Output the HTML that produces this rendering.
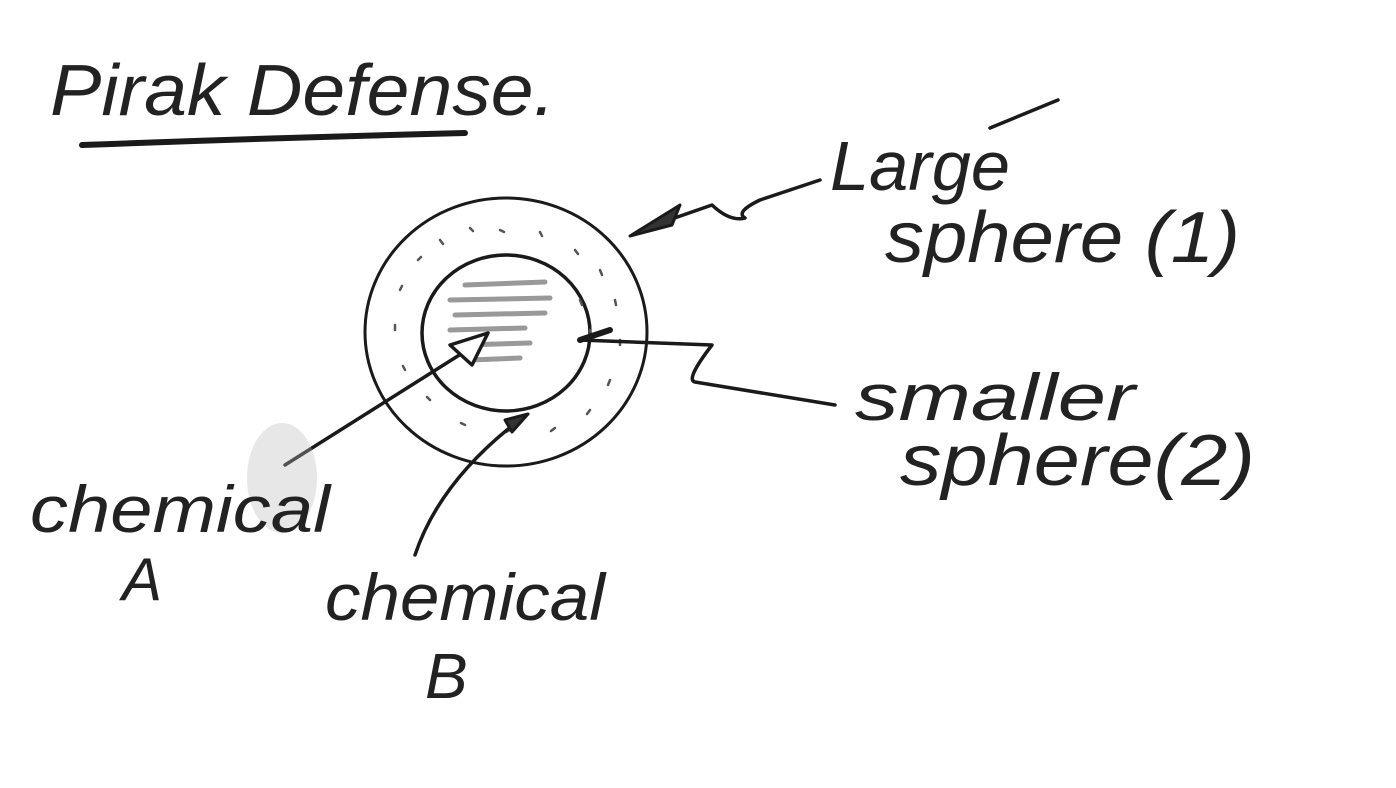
<!DOCTYPE html>
<html><head><meta charset="utf-8"><style>
html,body{margin:0;padding:0;background:#fff;}
svg{display:block;}
text{font-family:"Liberation Sans",sans-serif;font-style:italic;fill:#222;}
</style></head><body>
<svg width="1396" height="788" viewBox="0 0 1396 788" xmlns="http://www.w3.org/2000/svg">
<rect width="1396" height="788" fill="#fff"/>
<g fill="none" stroke="#1a1a1a" stroke-linecap="round" stroke-linejoin="round">
  <!-- title underline -->
  <path d="M82 145 Q270 138 465 133" stroke-width="6"/>
  <!-- outer circle -->
  <ellipse cx="506" cy="332" rx="141" ry="134" stroke-width="3"/>
  <!-- inner circle -->
  <ellipse cx="506" cy="333" rx="84" ry="78" stroke-width="3.5"/>
  <!-- dots in ring -->
  <g stroke="#555" stroke-width="2.5">
    <path d="M440 240 l3 4 M470 228 l3 3 M500 230 l4 2 M540 232 l2 4 M575 250 l3 4 M600 270 l2 5 M615 300 l1 5 M620 340 l0 5 M610 380 l-2 5 M590 410 l-3 4 M555 428 l-4 3 M510 430 l-4 2 M465 425 l-4 -2 M430 400 l-3 -3 M405 370 l-2 -4 M395 330 l0 -5 M400 290 l2 -4 M418 260 l3 -3 M580 300 l2 5 M590 330 l1 5"/>
  </g>
  <!-- hatching inside -->
  <g stroke="#999" stroke-width="5">
    <path d="M465 285 L545 282 M450 300 L550 298 M455 315 L545 313 M450 330 L525 328 M465 345 L530 343 M470 360 L520 358"/>
  </g>
  <!-- arrow to large sphere -->
  <path d="M820 180 L760 200 Q735 212 745 218 Q730 222 712 205 L640 230" stroke-width="3.5"/>
  <path d="M630 236 L680 205 L672 225 Z" fill="#333" stroke-width="3"/>
  <path d="M990 128 L1058 100" stroke-width="3.5"/>
  <!-- arrow to smaller sphere -->
  <path d="M835 405 L695 382 Q685 380 712 345 L580 340" stroke-width="3.5"/>
  <path d="M580 340 L610 330" stroke-width="6"/>
  <!-- chemical A arrow -->
  <path d="M285 465 L480 342" stroke-width="3.5"/>
  <path d="M488 333 L450 345 L472 365 Z" fill="#fff" stroke-width="3.5"/>
  <!-- chemical B arrow -->
  <path d="M415 555 Q440 480 522 418" stroke-width="3.5"/>
  <path d="M528 414 L505 420 L512 432 Z" fill="#333" stroke-width="3"/>
</g>
<!-- smudge -->
<ellipse cx="282" cy="478" rx="35" ry="55" fill="#bbb" opacity="0.35"/>
<text x="50" y="115" font-size="72" textLength="505" lengthAdjust="spacingAndGlyphs">Pirak Defense.</text>
<text x="830" y="190" font-size="70" textLength="180" lengthAdjust="spacingAndGlyphs">Large</text>
<text x="885" y="262" font-size="72" textLength="355" lengthAdjust="spacingAndGlyphs">sphere (1)</text>
<text x="855" y="420" font-size="66" textLength="280" lengthAdjust="spacingAndGlyphs">smaller</text>
<text x="900" y="485" font-size="72" textLength="355" lengthAdjust="spacingAndGlyphs">sphere(2)</text>
<text x="30" y="532" font-size="66" textLength="300" lengthAdjust="spacingAndGlyphs">chemical</text>
<text x="122" y="600" font-size="60">A</text>
<text x="325" y="620" font-size="66" textLength="280" lengthAdjust="spacingAndGlyphs">chemical</text>
<text x="425" y="698" font-size="64">B</text>
</svg>
</body></html>
